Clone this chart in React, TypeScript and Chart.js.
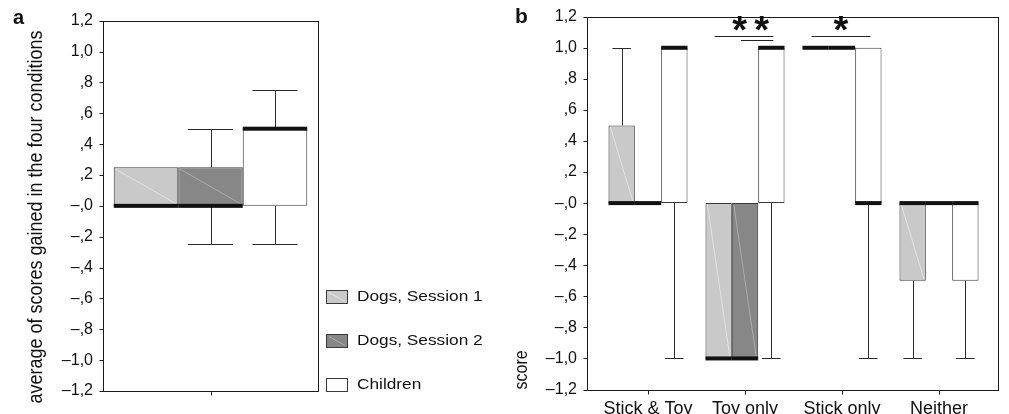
import React, { useEffect, useRef } from 'react';
import { Chart, registerables } from 'chart.js';
Chart.register(...registerables);

const FONT = "'Liberation Sans', Arial, Helvetica, sans-serif";

const SERIES = ['Dogs, Session 1', 'Dogs, Session 2', 'Children'];
const FILLS = ['#c9c9c9', '#878787', '#ffffff'];
const DIAGS = ['rgba(255,255,255,0.45)', 'rgba(255,255,255,0.3)', ''];

const Y_MIN = -1.2;
const Y_MAX = 1.2;
const Y_STEP = 0.2;

// Panel a: one group, values per series (Dogs S1, Dogs S2, Children)
const A_CATS = [''];
const A_Q1 = [0, 0, 0];
const A_Q3 = [0.25, 0.25, 0.5];
const A_MED = [0, 0, 0.5];
const A_LO = [0, -0.25, -0.25];
const A_HI = [0.25, 0.5, 0.75];

// Panel b: per category
const B_CATS = ['Stick & Toy', 'Toy only', 'Stick only', 'Neither'];
const B_DOGS1_Q1 = [0, -1, 1, -0.5];
const B_DOGS1_Q3 = [0.5, 0, 1, 0];
const B_DOGS1_MED = [0, -1, 1, 0];
const B_DOGS1_LO = [0, -1, 1, -1];
const B_DOGS1_HI = [1, 0, 1, 0];

const B_DOGS2_Q1 = [0, -1, 1, 0];
const B_DOGS2_Q3 = [0, 0, 1, 0];
const B_DOGS2_MED = [0, -1, 1, 0];
const B_DOGS2_LO = [0, -1, 1, 0];
const B_DOGS2_HI = [0, 0, 1, 0];

const B_CHILD_Q1 = [0, 0, 0, -0.5];
const B_CHILD_Q3 = [1, 1, 1, 0];
const B_CHILD_MED = [1, 1, 0, 0];
const B_CHILD_LO = [-1, -1, -1, -1];
const B_CHILD_HI = [1, 1, 1, 0];

// Significance brackets (panel b)
const SIG_CAT = [1, 1, 2];
const SIG_FROM = [0, 1, 0];
const SIG_TO = [2, 2, 2];
const SIG_LEVEL = [1.075, 1.05, 1.075];
const SIG_LABEL_CATS = [1, 2];
const SIG_LABELS = ['**', '*'];
const SIG_LABEL_LEVEL = 1.165;

const A_TITLE = 'average of scores gained in the four conditions';
const B_TITLE = 'score';

function fmt(v: number) {
  const r = Math.round(v * 10) / 10;
  const neg = r <= 0;
  const a = Math.abs(r);
  const body = a >= 1 ? a.toFixed(1).replace('.', ',') : ',' + Math.round(a * 10);
  return (neg ? '\u2013' : '') + body;
}

const px = (v: number) => Math.round(v) + 0.5;

const boxPlugin = {
  id: 'boxExtras',
  afterDatasetsDraw(chart: any) {
    const ctx = chart.ctx;
    const y = chart.scales.y;
    ctx.save();
    chart.data.datasets.forEach((ds: any, di: number) => {
      const meta = chart.getDatasetMeta(di);
      meta.data.forEach((bar: any, j: number) => {
        const { x, width } = bar.getProps(['x', 'width'], true);
        const left = x - width / 2;
        const right = x + width / 2;
        const q1 = ds.data[j][0];
        const q3 = ds.data[j][1];
        const yq1 = y.getPixelForValue(q1);
        const yq3 = y.getPixelForValue(q3);
        const cx = px(x);
        if (ds.diag && Math.abs(yq1 - yq3) > 3) {
          ctx.strokeStyle = ds.diag;
          ctx.lineWidth = 1;
          ctx.beginPath();
          ctx.moveTo(left + 2, Math.min(yq1, yq3) + 2);
          ctx.lineTo(right - 2, Math.max(yq1, yq3) - 2);
          ctx.stroke();
        }
        ctx.strokeStyle = '#2a2a2a';
        ctx.lineWidth = 1;
        const cap = width * 0.35;
        const hi = ds.whiskHi[j];
        const lo = ds.whiskLo[j];
        if (hi > q3) {
          const yh = px(y.getPixelForValue(hi));
          ctx.beginPath();
          ctx.moveTo(cx, yq3);
          ctx.lineTo(cx, yh);
          ctx.moveTo(x - cap, yh);
          ctx.lineTo(x + cap, yh);
          ctx.stroke();
        }
        if (lo < q1) {
          const yl = px(y.getPixelForValue(lo));
          ctx.beginPath();
          ctx.moveTo(cx, yq1);
          ctx.lineTo(cx, yl);
          ctx.moveTo(x - cap, yl);
          ctx.lineTo(x + cap, yl);
          ctx.stroke();
        }
        const ym = y.getPixelForValue(ds.median[j]);
        ctx.fillStyle = '#111';
        ctx.fillRect(left, ym - 2, width, 4);
      });
    });
    ctx.restore();
  },
};

const framePlugin = {
  id: 'frame',
  afterDraw(chart: any, _a: any, opts: any) {
    const ctx = chart.ctx;
    const ca = chart.chartArea;
    const l = px(ca.left - (opts.extLeft || 0));
    const r = px(ca.right + (opts.extRight || 0));
    const t = px(ca.top);
    const b = px(ca.bottom);
    ctx.save();
    ctx.strokeStyle = '#1a1a1a';
    ctx.lineWidth = 1;
    ctx.strokeRect(l, t, r - l, b - t);
    const y = chart.scales.y;
    ctx.beginPath();
    y.ticks.forEach((tk: any) => {
      const yy = px(y.getPixelForValue(tk.value));
      ctx.moveTo(l - 4, yy);
      ctx.lineTo(l, yy);
    });
    const x = chart.scales.x;
    for (let i = 0; i < chart.data.labels.length; i++) {
      const xx = px(x.getPixelForValue(i));
      ctx.moveTo(xx, b);
      ctx.lineTo(xx, b + 4);
    }
    ctx.stroke();
    ctx.restore();
  },
};

const textAPlugin = {
  id: 'textA',
  afterDraw(chart: any) {
    const ctx = chart.ctx;
    ctx.save();
    ctx.fillStyle = '#111';
    ctx.font = `bold 20px ${FONT}`;
    ctx.textAlign = 'left';
    ctx.textBaseline = 'alphabetic';
    ctx.fillText('a', 13, 24);
    // axis title
    ctx.save();
    ctx.translate(41.5, 217);
    ctx.rotate(-Math.PI / 2);
    ctx.scale(1, 1.1);
    ctx.font = `18px ${FONT}`;
    ctx.textAlign = 'center';
    ctx.fillText(A_TITLE, 0, 0);
    ctx.restore();
    // legend
    const rows = [296, 340, 384];
    SERIES.forEach((name, i) => {
      const cy = rows[i];
      const top = Math.round(cy - 6.5) + 0.5;
      ctx.fillStyle = FILLS[i];
      ctx.fillRect(326.5, top, 21, 13);
      if (DIAGS[i]) {
        ctx.strokeStyle = DIAGS[i];
        ctx.beginPath();
        ctx.moveTo(329, top + 2);
        ctx.lineTo(345, top + 11);
        ctx.stroke();
      }
      ctx.strokeStyle = '#3a3a3a';
      ctx.lineWidth = 1;
      ctx.strokeRect(326.5, top, 21, 13);
      ctx.save();
      ctx.translate(357, cy + 1);
      ctx.scale(1.15, 1);
      ctx.fillStyle = '#111';
      ctx.font = `15px ${FONT}`;
      ctx.textAlign = 'left';
      ctx.textBaseline = 'middle';
      ctx.fillText(name, 0, 0);
      ctx.restore();
    });
    ctx.restore();
  },
};

const textBPlugin = {
  id: 'textB',
  afterDraw(chart: any) {
    const ctx = chart.ctx;
    const y = chart.scales.y;
    ctx.save();
    ctx.fillStyle = '#111';
    ctx.font = `bold 21px ${FONT}`;
    ctx.textAlign = 'left';
    ctx.textBaseline = 'alphabetic';
    ctx.fillText('b', 15, 23);
    ctx.save();
    ctx.translate(27, chart.chartArea.bottom);
    ctx.rotate(-Math.PI / 2);
    ctx.scale(1, 1.1);
    ctx.font = `16px ${FONT}`;
    ctx.textAlign = 'left';
    ctx.fillText(B_TITLE, 0, 0);
    ctx.restore();
    // significance lines
    const centerOf = (cat: number, series: number) => {
      const el = chart.getDatasetMeta(series).data[cat];
      return el.getProps(['x'], true).x;
    };
    const mids: { cat: number; mid: number }[] = [];
    ctx.strokeStyle = '#222';
    ctx.lineWidth = 1;
    ctx.beginPath();
    SIG_CAT.forEach((cat, i) => {
      const x1 = centerOf(cat, SIG_FROM[i]) - 4;
      const x2 = centerOf(cat, SIG_TO[i]) + 2;
      const yy = px(y.getPixelForValue(SIG_LEVEL[i]));
      ctx.moveTo(x1, yy);
      ctx.lineTo(x2, yy);
      mids.push({ cat, mid: (x1 + x2) / 2 });
    });
    ctx.stroke();
    ctx.font = `bold 38px ${FONT}`;
    ctx.textAlign = 'center';
    ctx.textBaseline = 'alphabetic';
    const cyStar = y.getPixelForValue(SIG_LABEL_LEVEL);
    SIG_LABEL_CATS.forEach((cat, k) => {
      const ms = mids.filter((m) => m.cat === cat).map((m) => m.mid);
      const cx = ms.reduce((s, v) => s + v, 0) / ms.length;
      const chars = SIG_LABELS[k].split('');
      const gap = 22;
      chars.forEach((c, ci) => {
        const xx = cx + (ci - (chars.length - 1) / 2) * gap;
        ctx.fillText(c, xx, cyStar + 21);
      });
    });
    ctx.restore();
  },
};

function yAxis(width: number, padding: number) {
  return {
    min: Y_MIN,
    max: Y_MAX,
    ticks: {
      stepSize: Y_STEP,
      callback: (v: any) => fmt(Number(v)),
      font: { family: FONT, size: 16 },
      color: '#111',
      padding,
    },
    grid: { display: false, drawTicks: false, tickLength: 0 },
    border: { display: false },
    afterFit: (s: any) => {
      s.width = width;
      s.paddingTop = 0;
      s.paddingBottom = 0;
    },
  };
}

function makeDataset(i: number, q1: number[], q3: number[], med: number[], lo: number[], hi: number[]) {
  return {
    label: SERIES[i],
    data: q1.map((v, j) => [v, q3[j]]),
    backgroundColor: FILLS[i],
    borderColor: '#3a3a3a',
    borderWidth: 1,
    borderSkipped: false,
    median: med,
    whiskLo: lo,
    whiskHi: hi,
    diag: DIAGS[i],
  } as any;
}

export default function App() {
  const refA = useRef<HTMLCanvasElement>(null);
  const refB = useRef<HTMLCanvasElement>(null);

  useEffect(() => {
    const dsA = [0, 1, 2].map((i) =>
      makeDataset(i, [A_Q1[i]], [A_Q3[i]], [A_MED[i]], [A_LO[i]], [A_HI[i]])
    );
    const chartA = new Chart(refA.current as HTMLCanvasElement, {
      type: 'bar',
      data: { labels: A_CATS, datasets: dsA },
      options: {
        responsive: false,
        animation: false,
        devicePixelRatio: 1,
        layout: { padding: { left: 0, right: 182, top: 20.7, bottom: 23 } },
        datasets: { bar: { categoryPercentage: 0.9, barPercentage: 1 } },
        plugins: { legend: { display: false }, tooltip: { enabled: false }, frame: {} } as any,
        scales: {
          x: { display: false, offset: true },
          y: yAxis(103, 10) as any,
        },
      },
      plugins: [boxPlugin, framePlugin, textAPlugin] as any,
    });

    const dsB = [
      makeDataset(0, B_DOGS1_Q1, B_DOGS1_Q3, B_DOGS1_MED, B_DOGS1_LO, B_DOGS1_HI),
      makeDataset(1, B_DOGS2_Q1, B_DOGS2_Q3, B_DOGS2_MED, B_DOGS2_LO, B_DOGS2_HI),
      makeDataset(2, B_CHILD_Q1, B_CHILD_Q3, B_CHILD_MED, B_CHILD_LO, B_CHILD_HI),
    ];
    const chartB = new Chart(refB.current as HTMLCanvasElement, {
      type: 'bar',
      data: { labels: B_CATS, datasets: dsB },
      options: {
        responsive: false,
        animation: false,
        devicePixelRatio: 1,
        layout: { padding: { left: 0, right: 21.5, top: 16.7, bottom: 0 } },
        datasets: { bar: { categoryPercentage: 0.815, barPercentage: 1 } },
        plugins: {
          legend: { display: false },
          tooltip: { enabled: false },
          frame: { extLeft: 12.5, extRight: 10.5 },
        } as any,
        scales: {
          x: {
            offset: true,
            ticks: {
              font: { family: FONT, size: 18 },
              color: '#111',
              padding: 9,
              maxRotation: 0,
              minRotation: 0,
              autoSkip: false,
            },
            grid: { display: false, drawTicks: false, tickLength: 0 },
            border: { display: false },
            afterFit: (s: any) => {
              s.height = 24.5;
              s.paddingLeft = 0;
              s.paddingRight = 0;
            },
          } as any,
          y: yAxis(99.5, 22.5) as any,
        },
      },
      plugins: [boxPlugin, framePlugin, textBPlugin] as any,
    });

    return () => {
      chartA.destroy();
      chartB.destroy();
    };
  }, []);

  return (
    <div style={{ position: 'absolute', left: 0, top: 0, width: 1009, height: 414, background: '#fff', overflow: 'hidden' }}>
      <canvas ref={refA} width={500} height={414} style={{ position: 'absolute', left: 0, top: 0, width: 500, height: 414 }} />
      <canvas ref={refB} width={509} height={414} style={{ position: 'absolute', left: 500, top: 0, width: 509, height: 414 }} />
    </div>
  );
}
